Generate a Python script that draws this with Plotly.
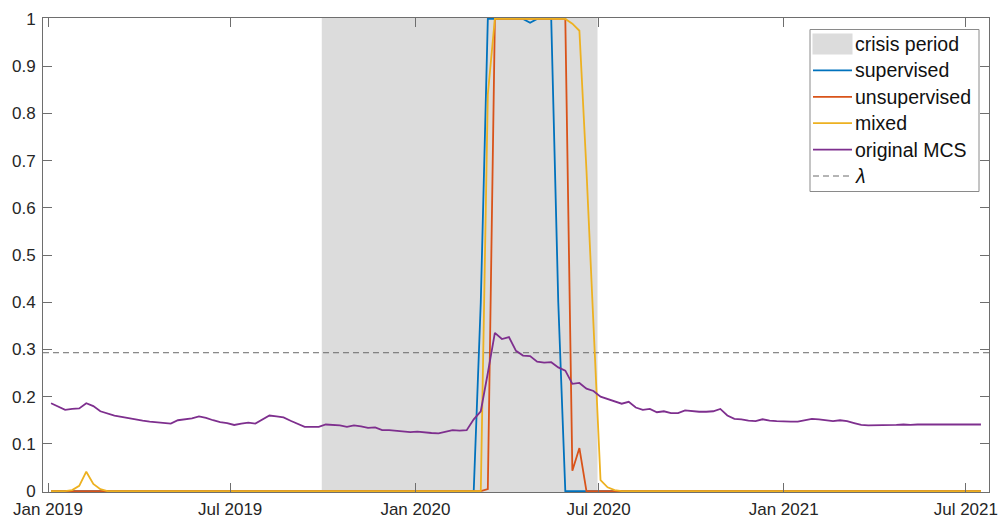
import pandas as pd
import plotly.graph_objects as go

# ---- data -------------------------------------------------------------
start_date = "2019-01-04"          # weekly observations
n_weeks = 133
dates = pd.date_range(start_date, periods=n_weeks, freq="7D")

crisis_start = "2019-09-30"
crisis_end = "2020-06-30"
lambda_threshold = 0.293

supervised = [
    0, 0, 0, 0, 0, 0, 0, 0, 0, 0,
    0, 0, 0, 0, 0, 0, 0, 0, 0, 0,
    0, 0, 0, 0, 0, 0, 0, 0, 0, 0,
    0, 0, 0, 0, 0, 0, 0, 0, 0, 0,
    0, 0, 0, 0, 0, 0, 0, 0, 0, 0,
    0, 0, 0, 0, 0, 0, 0, 0, 0, 0,
    0, 0.40, 1, 1, 1, 1, 1, 1, 0.992, 1,
    1, 1, 0.40, 0, 0, 0, 0, 0, 0, 0,
    0, 0, 0, 0, 0, 0, 0, 0, 0, 0,
    0, 0, 0, 0, 0, 0, 0, 0, 0, 0,
    0, 0, 0, 0, 0, 0, 0, 0, 0, 0,
    0, 0, 0, 0, 0, 0, 0, 0, 0, 0,
    0, 0, 0, 0, 0, 0, 0, 0, 0, 0,
    0, 0, 0,
]

unsupervised = [
    0, 0, 0, 0, 0, 0, 0, 0, 0, 0,
    0, 0, 0, 0, 0, 0, 0, 0, 0, 0,
    0, 0, 0, 0, 0, 0, 0, 0, 0, 0,
    0, 0, 0, 0, 0, 0, 0, 0, 0, 0,
    0, 0, 0, 0, 0, 0, 0, 0, 0, 0,
    0, 0, 0, 0, 0, 0, 0, 0, 0, 0,
    0, 0, 0.004, 1, 1, 1, 1, 1, 1, 1,
    1, 1, 1, 1, 0.043, 0.091, 0, 0, 0, 0,
    0, 0, 0, 0, 0, 0, 0, 0, 0, 0,
    0, 0, 0, 0, 0, 0, 0, 0, 0, 0,
    0, 0, 0, 0, 0, 0, 0, 0, 0, 0,
    0, 0, 0, 0, 0, 0, 0, 0, 0, 0,
    0, 0, 0, 0, 0, 0, 0, 0, 0, 0,
    0, 0, 0,
]

mixed = [
    0, 0, 0, 0.002, 0.011, 0.041, 0.015, 0.004, 0, 0,
    0, 0, 0, 0, 0, 0, 0, 0, 0, 0,
    0, 0, 0, 0, 0, 0, 0, 0, 0, 0,
    0, 0, 0, 0, 0, 0, 0, 0, 0, 0,
    0, 0, 0, 0, 0, 0, 0, 0, 0, 0,
    0, 0, 0, 0, 0, 0, 0, 0, 0, 0,
    0, 0, 0.84, 1, 1, 1, 1, 1, 1, 1,
    1, 1, 1, 1, 0.99, 0.975, 0.68, 0.36, 0.023, 0.008,
    0.002, 0, 0, 0, 0, 0, 0, 0, 0, 0,
    0, 0, 0, 0, 0, 0, 0, 0, 0, 0,
    0, 0, 0, 0, 0, 0, 0, 0, 0, 0,
    0, 0, 0, 0, 0, 0, 0, 0, 0, 0,
    0, 0, 0, 0, 0, 0, 0, 0, 0, 0,
    0, 0, 0,
]

original_mcs = [
    0.186, 0.179, 0.172, 0.174, 0.175, 0.186, 0.180, 0.169, 0.164, 0.160,
    0.157, 0.154, 0.151, 0.149, 0.147, 0.146, 0.144, 0.143, 0.150, 0.152,
    0.154, 0.158, 0.155, 0.150, 0.146, 0.144, 0.140, 0.143, 0.145, 0.143,
    0.152, 0.160, 0.158, 0.156, 0.149, 0.142, 0.136, 0.136, 0.136, 0.141,
    0.140, 0.139, 0.136, 0.139, 0.137, 0.134, 0.135, 0.129, 0.129, 0.128,
    0.127, 0.125, 0.126, 0.124, 0.123, 0.122, 0.125, 0.129, 0.128, 0.129,
    0.152, 0.169, 0.250, 0.335, 0.322, 0.326, 0.297, 0.287, 0.286, 0.274,
    0.272, 0.273, 0.262, 0.255, 0.227, 0.229, 0.217, 0.212, 0.200, 0.195,
    0.190, 0.185, 0.189, 0.177, 0.172, 0.174, 0.167, 0.169, 0.165, 0.165,
    0.171, 0.169, 0.168, 0.168, 0.169, 0.174, 0.160, 0.153, 0.152, 0.149,
    0.148, 0.152, 0.149, 0.148, 0.147, 0.147, 0.147, 0.150, 0.153, 0.152,
    0.150, 0.148, 0.150, 0.148, 0.144, 0.140, 0.139, 0.139, 0.139, 0.140,
    0.140, 0.141, 0.140, 0.141, 0.141, 0.140, 0.141, 0.140, 0.140, 0.140,
    0.141, 0.141, 0.141,
]

series_names = ["supervised", "unsupervised", "mixed", "original MCS"]
series_values = [supervised, unsupervised, mixed, original_mcs]
series_colors = ["#0072BD", "#D95319", "#EDB120", "#7E2F8E"]
crisis_label = "crisis period"
lambda_label = "<i>λ</i>"

x_tick_dates = ["2019-01-01", "2019-07-01", "2020-01-01",
                "2020-07-01", "2021-01-01", "2021-07-01"]
x_tick_labels = ["Jan 2019", "Jul 2019", "Jan 2020",
                 "Jul 2020", "Jan 2021", "Jul 2021"]
y_tick_values = [0, 0.1, 0.2, 0.3, 0.4, 0.5, 0.6, 0.7, 0.8, 0.9, 1]
y_tick_labels = ["0", "0.1", "0.2", "0.3", "0.4", "0.5",
                 "0.6", "0.7", "0.8", "0.9", "1"]

# ---- styling ----------------------------------------------------------
FONT = "Liberation Sans, Arial, Helvetica, sans-serif"
AXIS_COLOR = "#6e6e6e"
TEXT_COLOR = "#262626"
SHADE = "#dcdcdc"
LAMBDA_COLOR = "#6a6a6a"
W, H = 1000, 520
M = dict(l=43, r=11, t=18, b=28)
PW = W - M["l"] - M["r"]
PH = H - M["t"] - M["b"]


def px(xp):
    """pixel column -> paper x"""
    return (xp - M["l"]) / PW


def py(yp):
    """pixel row -> paper y"""
    return (H - M["b"] - yp) / PH


fig = go.Figure()
for name, vals, col in zip(series_names, series_values, series_colors):
    fig.add_trace(go.Scatter(
        x=dates, y=vals, mode="lines", name=name,
        line=dict(color=col, width=1.8),
        hoverinfo="x+y+name",
    ))

shapes = [
    dict(type="rect", xref="x", yref="y domain", x0=crisis_start,
         x1=crisis_end, y0=0, y1=1, fillcolor=SHADE,
         line=dict(width=0), layer="below"),
    dict(type="line", xref="x domain", yref="y", x0=0, x1=1,
         y0=lambda_threshold, y1=lambda_threshold,
         line=dict(color=LAMBDA_COLOR, width=1, dash="6px,4px"),
         layer="below"),
]

# ---- legend box -------------------------------------------------------
box_l, box_r, box_t, box_b = 810, 979, 29.5, 191.5
sample_l, sample_r = 813, 852
text_x = 853
row0, row_step = 44, 26.4

shapes.append(dict(type="rect", xref="paper", yref="paper",
                   x0=px(box_l), x1=px(box_r), y0=py(box_b), y1=py(box_t),
                   fillcolor="white", line=dict(color="#8a8a8a", width=1),
                   layer="above"))
shapes.append(dict(type="rect", xref="paper", yref="paper",
                   x0=px(sample_l - 0.5), x1=px(sample_r + 0.5),
                   y0=py(row0 + 10.5), y1=py(row0 - 10.5),
                   fillcolor=SHADE, line=dict(width=0), layer="above"))

legend_labels = [crisis_label] + series_names + [lambda_label]
for k, col in enumerate(series_colors):
    yy = row0 + row_step * (k + 1)
    shapes.append(dict(type="line", xref="paper", yref="paper",
                       x0=px(sample_l), x1=px(sample_r),
                       y0=py(yy), y1=py(yy),
                       line=dict(color=col, width=1.8), layer="above"))
yy = row0 + row_step * 5
shapes.append(dict(type="line", xref="paper", yref="paper",
                   x0=px(sample_l), x1=px(sample_r), y0=py(yy), y1=py(yy),
                   line=dict(color=LAMBDA_COLOR, width=1, dash="6px,4px"),
                   layer="above"))

annotations = []
for k, lab in enumerate(legend_labels):
    annotations.append(dict(
        xref="paper", yref="paper", x=px(text_x), y=py(row0 + row_step * k),
        text=lab, showarrow=False, xanchor="left", yanchor="middle",
        font=dict(family=FONT, size=19.5, color="#111111"),
    ))

axis_common = dict(
    showline=True, linecolor=AXIS_COLOR, linewidth=1, mirror="ticks",
    ticks="inside", ticklen=9, tickwidth=1, tickcolor=AXIS_COLOR,
    showgrid=False, zeroline=False, automargin=False,
    tickfont=dict(family=FONT, size=17, color=TEXT_COLOR),
)

fig.update_layout(
    width=W, height=H, margin=M,
    paper_bgcolor="white", plot_bgcolor="white",
    showlegend=False,
    shapes=shapes, annotations=annotations,
    font=dict(family=FONT, color=TEXT_COLOR),
    xaxis=dict(type="date", range=["2018-12-27", "2021-07-24"],
               tickvals=x_tick_dates, ticktext=x_tick_labels,
               ticklabelstandoff=2, **axis_common),
    yaxis=dict(range=[-0.002, 1.002], tickvals=y_tick_values,
               ticktext=y_tick_labels, ticklabelstandoff=3, **axis_common),
)

fig.write_html("out.html")
